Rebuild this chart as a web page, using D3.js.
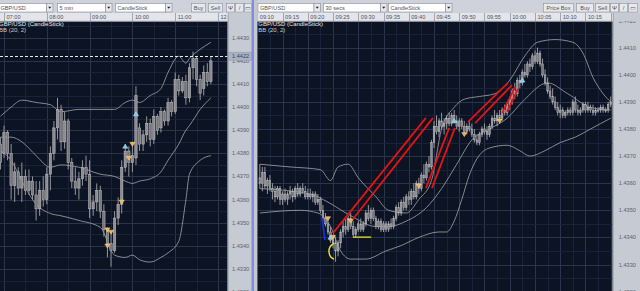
<!DOCTYPE html>
<html>
<head>
<meta charset="utf-8">
<script src="https://cdn.jsdelivr.net/npm/d3@7"></script>
<style>
  html, body { margin: 0; padding: 0; background: #cdd0d8; overflow: hidden; }
  svg { display: block; font-family: "Liberation Sans", Arial, sans-serif; }
</style>
</head>
<body>
<div id="container"></div>
<script>
// ---------- left chart: GBP/USD 5 min candles (first candle 06:55) ----------
var leftOpen  = [1.4384,1.4380,1.4389,1.4380,1.4366,1.4372,1.4365,1.4370,1.4364,1.4368,
                 1.4362,1.4356,1.4364,1.4360,1.4371,1.4380,1.4391,1.4399,1.4385,1.4394,
                 1.4376,1.4368,1.4365,1.4369,1.4374,1.4371,1.4356,1.4359,1.4364,1.4355,
                 1.4347,1.4341,1.4338,1.4352,1.4358,1.4374,1.4381,1.4376,1.4378,1.4391,
                 1.4384,1.4388,1.4393,1.4386,1.4396,1.4391,1.4398,1.4394,1.4402,1.4398,
                 1.4412,1.4407,1.4411,1.4404,1.4417,1.4421,1.4412,1.4408,1.4415,1.4411];
var leftHigh  = [1.4387,1.4392,1.4390,1.4384,1.4376,1.4374,1.4376,1.4373,1.4373,1.4370,
                 1.4368,1.4368,1.4370,1.4374,1.4383,1.4394,1.4404,1.4401,1.4398,1.4395,
                 1.4378,1.4374,1.4372,1.4377,1.4379,1.4377,1.4362,1.4367,1.4366,1.4358,
                 1.4348,1.4346,1.4355,1.4361,1.4377,1.4384,1.4383,1.4385,1.4409,1.4393,
                 1.4390,1.4396,1.4395,1.4399,1.4397,1.4400,1.4399,1.4404,1.4403,1.4415,
                 1.4414,1.4413,1.4414,1.4419,1.4424,1.4422,1.4414,1.4418,1.4419,1.4422];
var leftLow   = [1.4373,1.4378,1.4377,1.4360,1.4359,1.4362,1.4359,1.4362,1.4362,1.4360,
                 1.4351,1.4353,1.4357,1.4358,1.4364,1.4377,1.4386,1.4381,1.4382,1.4373,
                 1.4365,1.4362,1.4360,1.4366,1.4368,1.4352,1.4353,1.4355,1.4352,1.4344,
                 1.4335,1.4331,1.4337,1.4349,1.4354,1.4372,1.4370,1.4372,1.4375,1.4381,
                 1.4381,1.4385,1.4383,1.4384,1.4388,1.4389,1.4392,1.4392,1.4396,1.4397,
                 1.4405,1.4406,1.4401,1.4402,1.4412,1.4409,1.4403,1.4405,1.4409,1.4410];
var leftClose = [1.4376,1.4389,1.4380,1.4366,1.4372,1.4365,1.4370,1.4364,1.4368,1.4362,
                 1.4356,1.4364,1.4360,1.4371,1.4380,1.4391,1.4399,1.4385,1.4394,1.4376,
                 1.4368,1.4365,1.4369,1.4374,1.4371,1.4356,1.4359,1.4364,1.4355,1.4347,
                 1.4341,1.4338,1.4352,1.4358,1.4374,1.4381,1.4376,1.4379,1.4405,1.4384,
                 1.4388,1.4393,1.4386,1.4396,1.4390,1.4398,1.4394,1.4402,1.4398,1.4412,
                 1.4407,1.4411,1.4404,1.4417,1.4421,1.4412,1.4406,1.4415,1.4411,1.4420];

// Bollinger band (20, 2) read at these candle indices
var leftBandIdx = [0,3,6,10,14,17,22,28,32,35,37,39,42,45,47,50,52,53,56,59];
var leftUpper   = [1.4396,1.4400,1.4403,1.4402,1.4401,1.4398,1.4399,1.4399,1.4399,1.4402,
                   1.4403,1.4402,1.4405,1.4408,1.4415,1.4422,1.4419,1.4421,1.4425,1.4428];
var leftMid     = [1.4387,1.4387,1.4385,1.4379,1.4374,1.4375,1.4374,1.4371,1.4370,1.4368,
                   1.4367,1.4368,1.4369,1.4372,1.4377,1.4384,1.4390,1.4392,1.4399,1.4404];
var leftLower   = [1.4381,1.4377,1.4368,1.4358,1.4354,1.4353,1.4351,1.4348,1.4336,1.4335,
                   1.4336,1.4334,1.4333,1.4335,1.4337,1.4342,1.4360,1.4371,1.4377,1.4379];

var leftSignalIdx   = [30, 31, 30, 34, 36, 37, 35, 38];
var leftSignalPrice = [1.4347, 1.4346, 1.4340, 1.4359, 1.4378, 1.4384, 1.4383, 1.4397];
var leftSignalType  = ["sell","sell","sell","sell","sell","sell","buy","buy"];
var leftLastPrice = 1.4422;

var leftPriceTicks = [1.4320,1.4330,1.4340,1.4350,1.4360,1.4370,1.4380,1.4390,1.4400,1.4410,1.4420,1.4430];
var leftTimeTicks  = ["07:00","08:00","09:00","10:00","11:00","12:00"];

// ---------- right chart: GBP/USD 30 secs candles (first candle 09:10:30) ----------
var rightOpen  = [1.4362,1.4360,1.4364,1.4359,1.4361,1.4358,1.4357,1.4355,1.4358,1.4354,
                  1.4356,1.4354,1.4356,1.4357,1.4355,1.4358,1.4356,1.4358,1.4357,1.4355,
                  1.4356,1.4355,1.4356,1.4353,1.4354,1.4350,1.4347,1.4345,1.4342,1.4339,
                  1.4338,1.4335,1.4338,1.4342,1.4344,1.4343,1.4347,1.4344,1.4341,1.4343,
                  1.4345,1.4343,1.4345,1.4349,1.4347,1.4350,1.4347,1.4344,1.4346,1.4343,
                  1.4345,1.4343,1.4345,1.4344,1.4347,1.4351,1.4349,1.4353,1.4351,1.4355,
                  1.4354,1.4357,1.4355,1.4360,1.4358,1.4363,1.4362,1.4367,1.4366,1.4375,
                  1.4381,1.4379,1.4383,1.4381,1.4382,1.4384,1.4382,1.4385,1.4383,1.4381,
                  1.4383,1.4381,1.4379,1.4381,1.4380,1.4378,1.4376,1.4375,1.4378,1.4380,
                  1.4379,1.4378,1.4381,1.4384,1.4383,1.4385,1.4384,1.4387,1.4386,1.4389,
                  1.4391,1.4394,1.4393,1.4398,1.4397,1.4401,1.4400,1.4404,1.4403,1.4407,
                  1.4405,1.4408,1.4404,1.4400,1.4397,1.4394,1.4392,1.4390,1.4388,1.4386,
                  1.4387,1.4385,1.4386,1.4387,1.4386,1.4390,1.4387,1.4386,1.4387,1.4389,
                  1.4387,1.4388,1.4387,1.4386,1.4387,1.4387,1.4388,1.4387,1.4387,1.4389];
var rightHigh  = [1.4367,1.4366,1.4366,1.4362,1.4363,1.4360,1.4359,1.4359,1.4359,1.4357,
                  1.4358,1.4357,1.4359,1.4358,1.4359,1.4360,1.4359,1.4360,1.4359,1.4358,
                  1.4358,1.4357,1.4357,1.4356,1.4355,1.4352,1.4349,1.4347,1.4344,1.4341,
                  1.4340,1.4339,1.4343,1.4346,1.4347,1.4348,1.4349,1.4346,1.4344,1.4346,
                  1.4347,1.4346,1.4350,1.4352,1.4351,1.4351,1.4348,1.4347,1.4347,1.4346,
                  1.4346,1.4346,1.4347,1.4348,1.4352,1.4353,1.4354,1.4355,1.4356,1.4357,
                  1.4358,1.4360,1.4361,1.4362,1.4364,1.4367,1.4368,1.4370,1.4376,1.4383,
                  1.4385,1.4384,1.4386,1.4384,1.4385,1.4386,1.4386,1.4387,1.4385,1.4384,
                  1.4384,1.4383,1.4382,1.4383,1.4382,1.4380,1.4378,1.4379,1.4381,1.4382,
                  1.4381,1.4382,1.4385,1.4387,1.4386,1.4387,1.4388,1.4389,1.4390,1.4392,
                  1.4395,1.4397,1.4399,1.4400,1.4402,1.4404,1.4405,1.4406,1.4408,1.4409,
                  1.4410,1.4409,1.4406,1.4402,1.4399,1.4396,1.4395,1.4392,1.4390,1.4389,
                  1.4388,1.4387,1.4388,1.4388,1.4391,1.4392,1.4389,1.4388,1.4390,1.4390,
                  1.4390,1.4389,1.4389,1.4388,1.4388,1.4389,1.4389,1.4388,1.4390,1.4392];
var rightLow   = [1.4358,1.4357,1.4358,1.4356,1.4357,1.4354,1.4353,1.4354,1.4352,1.4352,
                  1.4353,1.4352,1.4354,1.4353,1.4354,1.4355,1.4355,1.4356,1.4354,1.4354,
                  1.4354,1.4353,1.4352,1.4352,1.4349,1.4346,1.4344,1.4341,1.4338,1.4336,
                  1.4331,1.4333,1.4336,1.4340,1.4341,1.4342,1.4343,1.4340,1.4340,1.4342,
                  1.4342,1.4342,1.4344,1.4346,1.4345,1.4346,1.4343,1.4343,1.4342,1.4342,
                  1.4342,1.4342,1.4343,1.4343,1.4346,1.4348,1.4348,1.4350,1.4350,1.4352,
                  1.4352,1.4354,1.4354,1.4356,1.4357,1.4360,1.4361,1.4364,1.4365,1.4373,
                  1.4378,1.4377,1.4380,1.4378,1.4380,1.4381,1.4381,1.4382,1.4380,1.4379,
                  1.4380,1.4378,1.4378,1.4379,1.4377,1.4375,1.4374,1.4374,1.4377,1.4378,
                  1.4376,1.4377,1.4380,1.4382,1.4381,1.4382,1.4383,1.4385,1.4385,1.4387,
                  1.4389,1.4391,1.4392,1.4395,1.4396,1.4399,1.4399,1.4401,1.4402,1.4404,
                  1.4404,1.4403,1.4399,1.4396,1.4393,1.4391,1.4389,1.4387,1.4385,1.4384,
                  1.4384,1.4384,1.4385,1.4385,1.4385,1.4386,1.4385,1.4385,1.4386,1.4386,
                  1.4386,1.4386,1.4385,1.4385,1.4386,1.4386,1.4386,1.4386,1.4386,1.4388];
var rightClose = [1.4360,1.4364,1.4359,1.4361,1.4358,1.4357,1.4355,1.4358,1.4354,1.4356,
                  1.4354,1.4356,1.4357,1.4355,1.4358,1.4356,1.4358,1.4357,1.4355,1.4356,
                  1.4355,1.4356,1.4353,1.4354,1.4350,1.4347,1.4345,1.4342,1.4339,1.4338,
                  1.4335,1.4338,1.4342,1.4344,1.4343,1.4347,1.4344,1.4341,1.4343,1.4345,
                  1.4343,1.4345,1.4349,1.4347,1.4350,1.4347,1.4344,1.4346,1.4343,1.4345,
                  1.4343,1.4345,1.4344,1.4347,1.4351,1.4349,1.4353,1.4351,1.4355,1.4354,
                  1.4357,1.4355,1.4360,1.4358,1.4363,1.4362,1.4367,1.4366,1.4375,1.4381,
                  1.4379,1.4383,1.4381,1.4382,1.4384,1.4382,1.4385,1.4383,1.4381,1.4383,
                  1.4381,1.4379,1.4381,1.4380,1.4378,1.4376,1.4375,1.4378,1.4380,1.4379,
                  1.4378,1.4381,1.4384,1.4383,1.4385,1.4384,1.4387,1.4386,1.4389,1.4391,
                  1.4394,1.4393,1.4398,1.4397,1.4401,1.4400,1.4404,1.4403,1.4407,1.4405,
                  1.4408,1.4404,1.4400,1.4397,1.4394,1.4392,1.4390,1.4388,1.4386,1.4387,
                  1.4385,1.4386,1.4387,1.4386,1.4390,1.4387,1.4386,1.4387,1.4389,1.4387,
                  1.4388,1.4387,1.4386,1.4387,1.4387,1.4388,1.4387,1.4387,1.4389,1.4390];

var rightUpperIdx = [0,12,24,28,31,35,39,46,51,58,63,68,72,77,81,87,93,99,105,110,117,124,128,132,136,139];
var rightUpper    = [1.4367,1.4366,1.4365,1.4361,1.4366,1.4367,1.4362,1.4355,1.4350,1.4349,1.4354,1.4361,
                     1.4380,1.4388,1.4391,1.4392,1.4393,1.4398,1.4407,1.4412,1.4413,1.4412,1.4408,1.4399,1.4393,1.4390];
var rightMidIdx   = [0,20,27,36,46,51,58,66,72,78,84,91,98,104,114,122,131,139];
var rightMid      = [1.4358,1.4356,1.4353,1.4348,1.4344,1.4344,1.4346,1.4351,1.4358,1.4367,1.4376,1.4380,
                     1.4384,1.4390,1.4397,1.4393,1.4388,1.4387];
var rightLowerIdx = [0,16,23,28,32,36,42,50,56,63,71,74,77,80,83,86,91,98,103,107,113,119,125,131,135,139];
var rightLower    = [1.4349,1.4350,1.4349,1.4344,1.4335,1.4332,1.4332,1.4335,1.4337,1.4340,1.4342,1.4342,
                     1.4346,1.4354,1.4363,1.4369,1.4373,1.4374,1.4372,1.4370,1.4372,1.4375,1.4377,1.4380,1.4382,1.4384];

var rightSignalIdx   = [27, 28, 29, 36, 63, 77, 81, 95, 104];
var rightSignalPrice = [1.4347, 1.4340, 1.4340, 1.4346, 1.4359, 1.4383, 1.4378, 1.4383, 1.4398];
var rightSignalType  = ["sell","buy","sell","sell","sell","buy","sell","sell","buy"];

// hand-drawn trend lines on the right chart (candle index, price)
var redFromIdx   = [29.0, 36.9, 65.8, 68.2, 82.5, 85.3, 96.0, 97.9];
var redFromPrice = [1.43416, 1.43468, 1.43582, 1.43582, 1.43826, 1.43822, 1.43859, 1.43863];
var redToIdx     = [65.8, 68.6, 75.0, 77.3, 98.3, 99.9, 101.1, 102.3];
var redToPrice   = [1.43841, 1.43841, 1.43804, 1.43804, 1.43970, 1.43962, 1.43955, 1.43948];
var blueMarkIdx = [24.6, 25.8], blueMarkPrice = [1.43472, 1.43390];
var yellowLineIdx = [36.9, 44.1], yellowLinePrice = [1.43401, 1.43401];
var yellowArcIdx = [29.4, 27.8, 27.4, 28.2, 29.4];
var yellowArcPrice = [1.43379, 1.43365, 1.43346, 1.43327, 1.43320];

var rightPriceTicks = [1.4320,1.4330,1.4340,1.4350,1.4360,1.4370,1.4380,1.4390,1.4400,1.4410,1.4420];
var rightTimeTicks  = ["09:10","09:15","09:20","09:25","09:30","09:35","09:40","09:45","09:50",
                       "09:55","10:00","10:05","10:10","10:15","10:20"];

// ---------- drawing ----------
function hm(s) {
  var a = s.split(":").map(Number);
  return new Date(2011, 4, 20, a[0], a[1], a[2] || 0);
}

var svg = d3.select("#container").append("svg")
  .attr("width", 640).attr("height", 291);

svg.append("rect").attr("width", 640).attr("height", 291).attr("fill", "#cdd0d8");

var panels = [
  {
    name: "left",
    plot: {x0: 0, x1: 227.7, y0: 21.5, y1: 291},
    axis: {x0: 227.7, x1: 251.5},
    x: d3.scaleTime().domain([hm("07:00"), hm("12:00")]).range([4, 218]),
    y: d3.scaleLinear().domain([1.4330, 1.4430]).range([269, 37.7]),
    first: hm("06:55"), stepMs: 5 * 60000, bodyW: 2.4,
    minorMs: 30 * 60000, majorMs: 60 * 60000,
    open: leftOpen, high: leftHigh, low: leftLow, close: leftClose,
    bands: [[leftBandIdx, leftUpper], [leftBandIdx, leftMid], [leftBandIdx, leftLower]],
    sigIdx: leftSignalIdx, sigPrice: leftSignalPrice, sigType: leftSignalType,
    priceTicks: leftPriceTicks, timeTicks: leftTimeTicks
  },
  {
    name: "right",
    plot: {x0: 257.3, x1: 612.7, y0: 21.5, y1: 291},
    axis: {x0: 612.7, x1: 640},
    x: d3.scaleTime().domain([hm("09:10"), hm("10:20")]).range([257.3, 610.7]),
    y: d3.scaleLinear().domain([1.4330, 1.4410]).range([264.5, 47.7]),
    first: hm("09:10:30"), stepMs: 30000, bodyW: 1.6,
    minorMs: 150000, majorMs: 300000,
    open: rightOpen, high: rightHigh, low: rightLow, close: rightClose,
    bands: [[rightUpperIdx, rightUpper], [rightMidIdx, rightMid], [rightLowerIdx, rightLower]],
    sigIdx: rightSignalIdx, sigPrice: rightSignalPrice, sigType: rightSignalType,
    priceTicks: rightPriceTicks, timeTicks: rightTimeTicks
  }
];

function drawPanel(p) {
  var pl = p.plot;
  var px = function(i) { return p.x(new Date(p.first.getTime() + i * p.stepMs)); };

  svg.append("clipPath").attr("id", "clip-" + p.name).append("rect")
    .attr("x", pl.x0).attr("y", pl.y0).attr("width", pl.x1 - pl.x0).attr("height", pl.y1 - pl.y0);

  svg.append("rect")
    .attr("x", pl.x0).attr("y", pl.y0).attr("width", pl.x1 - pl.x0).attr("height", pl.y1 - pl.y0)
    .attr("fill", "#0c1322");

  var g = svg.append("g").attr("clip-path", "url(#clip-" + p.name + ")");

  // vertical grid (minor + major)
  var t0 = p.x.invert(pl.x0).getTime(), t1 = p.x.invert(pl.x1).getTime();
  var base = p.x.domain()[0].getTime();
  var vt = d3.range(Math.floor((t0 - base) / p.minorMs), Math.ceil((t1 - base) / p.minorMs) + 1)
    .map(function(k) { return base + k * p.minorMs; });
  g.selectAll(".vgrid").data(vt).join("line")
    .attr("x1", function(d) { return Math.round(p.x(new Date(d))) + 0.5; })
    .attr("x2", function(d) { return Math.round(p.x(new Date(d))) + 0.5; })
    .attr("y1", pl.y0).attr("y2", pl.y1)
    .attr("stroke", function(d) { return ((d - base) % p.majorMs === 0) ? "#2a354d" : "#19223a"; })
    .attr("stroke-width", 1);

  // horizontal grid: every 0.0005, major every 0.0010
  var pLo = p.y.invert(pl.y1), pHi = p.y.invert(pl.y0);
  var ht = d3.range(Math.ceil(pLo * 2000), Math.floor(pHi * 2000) + 1);
  g.selectAll(".hgrid").data(ht).join("line")
    .attr("x1", pl.x0).attr("x2", pl.x1)
    .attr("y1", function(k) { return Math.round(p.y(k / 2000)) + 0.5; })
    .attr("y2", function(k) { return Math.round(p.y(k / 2000)) + 0.5; })
    .attr("stroke", function(k) { return k % 2 === 0 ? "#2a354d" : "#19223a"; })
    .attr("stroke-width", 1);

  // Bollinger bands
  p.bands.forEach(function(b) {
    var line = d3.line()
      .x(function(j) { return px(b[0][j]); })
      .y(function(j) { return p.y(b[1][j]); })
      .curve(d3.curveMonotoneX);
    g.append("path").attr("d", line(d3.range(b[0].length)))
      .attr("fill", "none").attr("stroke", "#a4a8b0").attr("stroke-width", 0.8);
  });

  // candles
  var idx = d3.range(p.open.length);
  g.selectAll(".wick").data(idx).join("line")
    .attr("x1", function(i) { return px(i); }).attr("x2", function(i) { return px(i); })
    .attr("y1", function(i) { return p.y(p.high[i]); })
    .attr("y2", function(i) { return p.y(p.low[i]); })
    .attr("stroke", "#a6a6aa").attr("stroke-width", 0.9);
  g.selectAll(".body").data(idx).join("rect")
    .attr("x", function(i) { return px(i) - p.bodyW / 2; })
    .attr("width", p.bodyW)
    .attr("y", function(i) { return p.y(Math.max(p.open[i], p.close[i])); })
    .attr("height", function(i) { return Math.max(1, Math.abs(p.y(p.open[i]) - p.y(p.close[i]))); })
    .attr("fill", function(i) { return p.close[i] >= p.open[i] ? "#8c8c90" : "#76767a"; })
    .attr("stroke", "#c2c2c6").attr("stroke-width", 0.5);

  // buy / sell signals
  var sig = d3.range(p.sigIdx.length);
  g.selectAll(".sig").data(sig).join("path")
    .attr("d", function(j) {
      var cx = px(p.sigIdx[j]), cy = p.y(p.sigPrice[j]);
      if (p.sigType[j] === "sell")
        return "M" + (cx - 2.6) + "," + (cy - 1.8) + "L" + (cx + 2.6) + "," + (cy - 1.8) + "L" + cx + "," + (cy + 2.2) + "Z";
      return "M" + (cx - 2.6) + "," + (cy + 1.8) + "L" + (cx + 2.6) + "," + (cy + 1.8) + "L" + cx + "," + (cy - 2.2) + "Z";
    })
    .attr("fill", function(j) { return p.sigType[j] === "sell" ? "#f4b04c" : "#7cc6f2"; })
    .attr("stroke", function(j) { return p.sigType[j] === "sell" ? "#ffd890" : "#bfe6ff"; })
    .attr("stroke-width", 0.5);

  p.g = g;
  p.px = px;

  // legend
  svg.append("text").attr("x", pl.x0 + (p.name === "left" ? -1 : 1)).attr("y", 26.3)
    .attr("font-size", 6).attr("fill", "#e4e6ea").text("GBP/USD (CandleStick)");
  svg.append("text").attr("x", pl.x0 + (p.name === "left" ? -1 : 1)).attr("y", 31.6)
    .attr("font-size", 6).attr("fill", "#c8cad0").text("BB (20, 2)");

  // price axis strip (labels clipped below the time row, as in the screenshot)
  var ax = p.axis;
  svg.append("rect").attr("x", ax.x0).attr("y", 13).attr("width", ax.x1 - ax.x0).attr("height", 278)
    .attr("fill", "#c6cad3");
  svg.append("line").attr("x1", ax.x0 + 0.5).attr("x2", ax.x0 + 0.5).attr("y1", 13).attr("y2", 291)
    .attr("stroke", "#9ea3ae");
  svg.append("clipPath").attr("id", "aclip-" + p.name).append("rect")
    .attr("x", ax.x0).attr("y", 21.5).attr("width", ax.x1 - ax.x0).attr("height", 269.5);
  svg.append("g").attr("clip-path", "url(#aclip-" + p.name + ")")
    .selectAll("text").data(p.priceTicks).join("text")
    .attr("x", (ax.x0 + ax.x1) / 2 + 1).attr("y", function(d) { return p.y(d) + 2; })
    .attr("text-anchor", "middle").attr("font-size", 5.6).attr("fill", "#5a5f6b")
    .text(function(d) { return d3.format(".4f")(d); });

  // time row: a separator at every tick, a label only where it starts inside the row
  svg.append("clipPath").attr("id", "tclip-" + p.name).append("rect")
    .attr("x", pl.x0).attr("y", 13).attr("width", pl.x1 - pl.x0).attr("height", 8.5);
  var tg = svg.append("g").attr("clip-path", "url(#tclip-" + p.name + ")");
  tg.append("rect").attr("x", pl.x0).attr("y", 13).attr("width", pl.x1 - pl.x0).attr("height", 8.5)
    .attr("fill", "#e4e5ea");
  tg.selectAll(".tsep").data(p.timeTicks).join("line")
    .attr("x1", function(d) { return Math.round(p.x(hm(d))) + 0.5; })
    .attr("x2", function(d) { return Math.round(p.x(hm(d))) + 0.5; })
    .attr("y1", 13).attr("y2", 21.5).attr("stroke", "#a2a6b0");
  tg.selectAll(".tlab").data(p.timeTicks.filter(function(d) { return p.x(hm(d)) + 2.5 < pl.x1 - 4; }))
    .join("text")
    .attr("x", function(d) { return p.x(hm(d)) + 2.5; }).attr("y", 19.3)
    .attr("font-size", 5.6).attr("fill", "#4e525c")
    .text(function(d) { return d; });
  svg.append("line").attr("x1", pl.x0).attr("x2", pl.x1).attr("y1", 21.2).attr("y2", 21.2)
    .attr("stroke", "#8e94a0").attr("stroke-width", 0.6);
}

panels.forEach(drawPanel);

// left: last price dashed line + highlighted axis label
var L = panels[0];
L.g.append("line").attr("x1", L.plot.x0).attr("x2", L.plot.x1)
  .attr("y1", Math.round(L.y(leftLastPrice)) + 0.5).attr("y2", Math.round(L.y(leftLastPrice)) + 0.5)
  .attr("stroke", "#e8e8ec").attr("stroke-width", 1).attr("stroke-dasharray", "3,2");
svg.append("rect").attr("x", L.axis.x0 + 1).attr("y", L.y(leftLastPrice) - 4)
  .attr("width", L.axis.x1 - L.axis.x0 - 1).attr("height", 8)
  .attr("fill", "#aab2c8").attr("stroke", "#8a92aa").attr("stroke-width", 0.5);
svg.append("text").attr("x", (L.axis.x0 + L.axis.x1) / 2 + 1).attr("y", L.y(leftLastPrice) + 2)
  .attr("text-anchor", "middle").attr("font-size", 5.6).attr("fill", "#3c4252")
  .text(d3.format(".4f")(leftLastPrice));

// right: drawn annotations
var R = panels[1];
var rx = R.px, ry = R.y;
R.g.selectAll(".red").data(d3.range(redFromIdx.length)).join("line")
  .attr("x1", function(j) { return rx(redFromIdx[j]); })
  .attr("y1", function(j) { return ry(redFromPrice[j]); })
  .attr("x2", function(j) { return rx(redToIdx[j]); })
  .attr("y2", function(j) { return ry(redToPrice[j]); })
  .attr("stroke", "#e41414").attr("stroke-width", 1.8);
R.g.append("line")
  .attr("x1", rx(blueMarkIdx[0])).attr("y1", ry(blueMarkPrice[0]))
  .attr("x2", rx(blueMarkIdx[1])).attr("y2", ry(blueMarkPrice[1]))
  .attr("stroke", "#1a30d8").attr("stroke-width", 1.8);
R.g.append("line")
  .attr("x1", rx(yellowLineIdx[0])).attr("y1", ry(yellowLinePrice[0]))
  .attr("x2", rx(yellowLineIdx[1])).attr("y2", ry(yellowLinePrice[1]))
  .attr("stroke", "#f2e62a").attr("stroke-width", 1.4);
R.g.append("path")
  .attr("d", d3.line().x(function(j) { return rx(yellowArcIdx[j]); })
    .y(function(j) { return ry(yellowArcPrice[j]); })
    .curve(d3.curveCatmullRom)(d3.range(yellowArcIdx.length)))
  .attr("fill", "none").attr("stroke", "#f2e62a").attr("stroke-width", 1.4);

// separator between the two windows
svg.append("rect").attr("x", 251.5).attr("y", 0).attr("width", 2.6).attr("height", 291).attr("fill", "#7f8fdc");
svg.append("rect").attr("x", 254.1).attr("y", 0).attr("width", 3.2).attr("height", 291).attr("fill", "#c4c7cf");

// toolbars
var toolbarBg = [[0, 251.5], [257.3, 640]];
toolbarBg.forEach(function(r) {
  svg.append("rect").attr("x", r[0]).attr("y", 0).attr("width", r[1] - r[0]).attr("height", 13)
    .attr("fill", "#cfd2da");
});

var leftToolbar = [
  {type: "combo", x: -2, w: 55, text: "GBP/USD"},
  {type: "combo", x: 57, w: 55, text: "5 min"},
  {type: "combo", x: 115, w: 57, text: "CandleStick"},
  {type: "btn", x: 191, w: 14, text: "Buy"},
  {type: "btn", x: 208, w: 14, text: "Sell"},
  {type: "icon", x: 226, w: 8, text: "\u03a8"},
  {type: "icon", x: 235, w: 8, text: "/"},
  {type: "icon", x: 244, w: 7, text: "\u25ad"}
];
var rightToolbar = [
  {type: "combo", x: 257.5, w: 63, text: "GBP/USD"},
  {type: "combo", x: 323, w: 64, text: "30 secs"},
  {type: "combo", x: 388, w: 64, text: "CandleStick"},
  {type: "btn", x: 543, w: 30, text: "Price Box"},
  {type: "btn", x: 576, w: 17, text: "Buy"},
  {type: "btn", x: 595, w: 14, text: "Sell"},
  {type: "icon", x: 610, w: 8, text: "\u03a8"},
  {type: "icon", x: 619, w: 8, text: "/"},
  {type: "icon", x: 628, w: 9, text: "\u25ad"}
];

function drawToolbar(items) {
  items.forEach(function(it) {
    var tb = svg.append("g");
    if (it.type === "combo") {
      tb.append("rect").attr("x", it.x + 0.5).attr("y", 3.5).attr("width", it.w - 7).attr("height", 8.5)
        .attr("fill", "#ffffff").attr("stroke", "#868b96").attr("stroke-width", 0.6);
      tb.append("rect").attr("x", it.x + it.w - 6.5).attr("y", 3.5).attr("width", 6.5).attr("height", 8.5)
        .attr("fill", "#e6e8ec").attr("stroke", "#868b96").attr("stroke-width", 0.6);
      var ax = it.x + it.w - 3.25;
      tb.append("path").attr("d", "M" + (ax - 1.6) + ",6.8L" + (ax + 1.6) + ",6.8L" + ax + ",8.8Z").attr("fill", "#202020");
      tb.append("text").attr("x", it.x + 2.5).attr("y", 10).attr("font-size", 5.6).attr("fill", "#50545c").text(it.text);
    } else {
      tb.append("rect").attr("x", it.x + 0.5).attr("y", 3.5).attr("width", it.w).attr("height", 8.5)
        .attr("fill", "#e8e9ed").attr("stroke", "#8a8f9a").attr("stroke-width", 0.6);
      tb.append("text").attr("x", it.x + 0.5 + it.w / 2).attr("y", 10).attr("text-anchor", "middle")
        .attr("font-size", it.type === "icon" ? 6 : 5.6).attr("fill", "#50545c").text(it.text);
    }
  });
}
drawToolbar(leftToolbar);
drawToolbar(rightToolbar);
</script>
</body>
</html>
